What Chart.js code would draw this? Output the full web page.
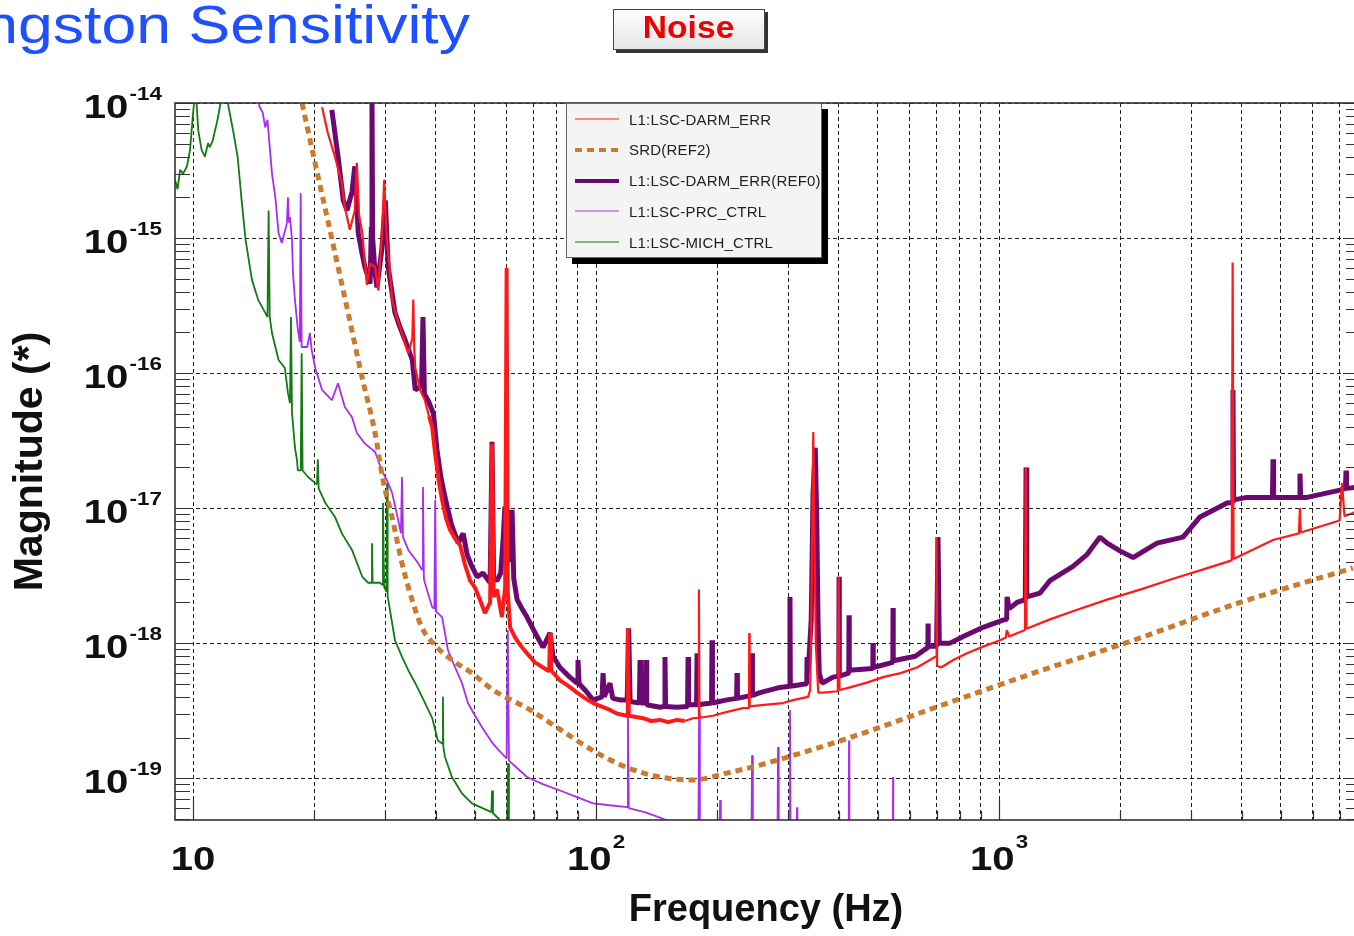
<!DOCTYPE html>
<html>
<head>
<meta charset="utf-8">
<script src="https://cdn.jsdelivr.net/npm/chart.js@4.4.1/dist/chart.umd.min.js"></script>
<style>
  html, body { margin: 0; padding: 0; background: #fff; overflow: hidden; }
  #wrap { position: relative; width: 1354px; height: 936px; overflow: hidden; background: #fff; }
  #c { position: absolute; left: 0; top: 0; }
  #title {
    position: absolute; right: 884px; top: -2px; white-space: nowrap;
    font: 53px/53px "Liberation Sans", Arial, sans-serif; color: #1e50ff;
    transform: scaleX(1.18); transform-origin: right top;
  }
  #noise {
    position: absolute; left: 613px; top: 9px; width: 150px; height: 39px;
    border: 1px solid #444; background: linear-gradient(#fdfdfd, #e6e6e6);
    box-shadow: 3px 3px 0 #333; text-align: center;
    font: bold 32px/34px "Liberation Sans", Arial, sans-serif; color: #ee0000;
  }
  #noise span { display: inline-block; transform: scaleX(1.05); }
  #legend {
    position: absolute; left: 566px; top: 103px; width: 254px; height: 153px;
    border: 1px solid #666; background: #f4f4f4; box-shadow: 6px 6px 0 #000;
    font: 15px "Liberation Sans", Arial, sans-serif; color: #222; letter-spacing: 0.2px;
  }
  #legend .row { position: absolute; left: 8px; height: 20px; display: flex; align-items: center; white-space: nowrap; }
  #legend svg { width: 44px; height: 10px; margin-right: 10px; }
</style>
</head>
<body>
<div id="wrap">
  <canvas id="c" width="1360" height="936"></canvas>
  <div id="title">Livingston Sensitivity</div>
  <div id="noise"><span>Noise</span></div>
  <div id="legend"></div>
</div>
<script>
// L1:LSC-DARM_ERR (current)
const darmFreq = [
  20.9, 21.6, 22.5, 23.4, 23.8, 24.5, 25.2, 25.5,
  25.8, 26.3, 27.0, 27.5, 28.3, 28.8, 29.5, 29.8,
  30.1, 30.3, 31.2, 32.0, 33.0, 34.2, 35.0, 35.2,
  35.4, 35.6, 36.6, 37.6, 38.5, 39.2, 39.9, 40.7,
  41.5, 42.4, 43.4, 44.6, 46.0, 47.3, 48.7, 50.0,
  51.5, 53.0, 54.6, 55.2, 55.7, 56.8, 58.4, 59.5,
  60.0, 60.4, 61.2, 63.0, 64.8, 67.4, 70.5, 73.9,
  76.5, 76.9, 77.3, 81.4, 85.5, 89.7, 94.0, 98.3,
  103, 108.3, 113, 119.4, 119.9, 120.6, 130.8, 137,
  144.1, 151, 158.9, 166, 174.1, 179.6, 180.0, 180.6,
  195, 211.4, 231.6, 239.6, 240.0, 240.6, 265, 291,
  310, 335.8, 340, 343, 346, 348, 351, 356,
  365.8, 398, 400, 402, 426.8, 470, 515.4, 570,
  625.9, 693.7, 698, 700, 702, 717.9, 770, 832.9,
  920, 1006, 1040, 1045, 1060, 1160, 1165, 1170,
  1338, 1550, 1854, 2250, 2703, 3200, 3780, 3800,
  3820, 4786, 5550, 5580, 5610, 7000, 7100, 7200,
  7550, 7733
];
const darmMag = [
  9.3e-15, 6.0e-15, 4.0e-15, 2.55e-15, 1.7e-15, 1.15e-15, 1.6e-15, 3.6e-15,
  1.5e-15, 1.09e-15, 4.5e-16, 6.5e-16, 6.1e-16, 4.1e-16, 1.2e-15, 2.7e-15,
  1.3e-15, 9.7e-16, 3.5e-16, 2.6e-16, 1.98e-16, 1.4e-16, 1.8e-16, 3.5e-16,
  1.5e-16, 1.09e-16, 7.5e-17, 6.3e-17, 4.8e-17, 4.0e-17, 2.5e-17, 1.6e-17,
  1.15e-17, 8.5e-18, 6.9e-18, 6.0e-18, 5.3e-18, 3.8e-18, 2.9e-18, 2.6e-18,
  2.1e-18, 1.67e-18, 2.0e-18, 3.0e-17, 2.2e-18, 2.5e-18, 1.56e-18, 2.6e-18,
  6.0e-16, 2.4e-18, 1.31e-18, 1.1e-18, 9.7e-19, 8.4e-19, 7.2e-19, 6.6e-19,
  6.2e-19, 1.19e-18, 6.3e-19, 5.3e-19, 4.8e-19, 4.3e-19, 3.9e-19, 3.6e-19,
  3.4e-19, 3.2e-19, 3.0e-19, 2.9e-19, 1.29e-18, 2.9e-19, 2.78e-19, 2.65e-19,
  2.7e-19, 2.6e-19, 2.7e-19, 2.65e-19, 2.78e-19, 2.8e-19, 2.5e-18, 2.8e-19,
  2.9e-19, 3.1e-19, 3.3e-19, 3.3e-19, 1.19e-18, 3.4e-19, 3.5e-19, 3.6e-19,
  3.8e-19, 4.0e-19, 4.5e-19, 3.0e-18, 3.66e-17, 8.0e-18, 1.0e-18, 4.3e-19,
  4.3e-19, 4.4e-19, 3.1e-18, 4.5e-19, 4.7e-19, 5.1e-19, 5.6e-19, 6.0e-19,
  6.6e-19, 7.9e-19, 7.9e-19, 6.1e-18, 6.8e-19, 6.6e-19, 7.5e-19, 8.4e-19,
  9.5e-19, 1.05e-18, 1.1e-18, 1.25e-18, 1.12e-18, 1.25e-18, 2.0e-17, 1.28e-18,
  1.5e-18, 1.75e-18, 2.1e-18, 2.5e-18, 3.0e-18, 3.5e-18, 4.1e-18, 6.6e-16,
  4.2e-18, 5.8e-18, 6.5e-18, 1.0e-17, 6.6e-18, 8.1e-18, 1.53e-17, 8.7e-18,
  9.2e-18, 9.5e-18
];

// SRD(REF2)
const srdFreq = [18.64, 20.08, 22.13, 24.25, 26.27, 28.29, 29.62, 31.17, 33.0, 34.95,
  37.0, 39.4, 43.9, 49.2, 55.5, 67.4, 81.4, 98.3, 119.4, 144.1,
  174, 211, 255, 427, 756, 1338, 1996, 3963, 7551];
const srdMag = [1e-14, 3.6e-15, 9.7e-16, 2.8e-16, 9.3e-17, 3.6e-17, 1.6e-17, 8.6e-18, 3.9e-18, 2.1e-18,
  1.3e-18, 1.0e-18, 7.5e-19, 6.0e-19, 4.5e-19, 3.3e-19, 2.3e-19, 1.6e-19, 1.2e-19, 1.02e-19,
  9.7e-20, 1.09e-19, 1.25e-19, 2.0e-19, 3.65e-19, 6.6e-19, 9.7e-19, 2.0e-18, 3.6e-18];

// L1:LSC-DARM_ERR(REF0)
const refFreq = [
  22.1, 22.9, 23.6, 24.1, 24.8, 25.2, 25.5, 25.7,
  26.2, 26.7, 27.5, 27.7, 27.8, 27.9, 28.3, 28.6,
  29.4, 30.0, 30.5, 31.7, 32.6, 33.6, 35.0, 35.6,
  36.9, 37.2, 37.5, 38.3, 39.5, 40.3, 41.2, 42.2,
  43.8, 45.5, 46.8, 47.9, 49.2, 50.7, 52.4, 54.6,
  55.2, 55.7, 56.8, 58.0, 58.8, 59.4, 60.1, 60.7,
  61.3, 61.9, 62.5, 63.7, 65.5, 67.4, 70.5, 73.9,
  76.9, 78.2, 81.4, 85.5, 89.7, 90.2, 90.8, 94.5,
  98.3, 103.5, 104.1, 104.8, 108.3, 110, 114.7, 119.5,
  120.5, 121.5, 128.1, 128.6, 129.2, 132.6, 133.1, 133.6,
  144.1, 147.8, 148.3, 148.8, 158.9, 168.7, 169.2, 169.7,
  177.6, 178.1, 178.6, 193.5, 194.0, 194.5, 211.4, 223.3,
  223.8, 224.3, 243.4, 243.9, 244.4, 255.2, 286.1, 302.3,
  302.9, 303.5, 333.4, 333.9, 336, 342, 345.5, 350,
  353, 355.5, 358, 363.7, 387.3, 400.3, 400.9, 401.5,
  423.8, 424.4, 425, 486.2, 486.8, 487.4, 545.2, 545.8,
  546.4, 620, 666, 666.6, 667.2, 700, 705.7, 711,
  755.5, 830, 912.9, 1023, 1045, 1047, 1060, 1108,
  1162, 1167, 1172, 1264, 1338, 1526, 1650, 1781,
  1854, 2000, 2150, 2467, 2861, 3154, 3680, 3795,
  3807, 3820, 4126, 4770, 4786, 4802, 5560, 5583,
  5606, 5812, 7020, 7240, 7262, 7284, 7733
];
const refMag = [
  8.9e-15, 4.0e-15, 1.9e-15, 1.6e-15, 2.2e-15, 3.4e-15, 1.8e-15, 1.09e-15,
  8.0e-16, 6.1e-16, 4.6e-16, 1.2e-15, 1.2e-14, 1.0e-15, 5.5e-16, 4.3e-16,
  8.2e-16, 1.9e-15, 6.1e-16, 2.8e-16, 2.2e-16, 1.75e-16, 1.25e-16, 7.5e-17,
  8.0e-17, 2.6e-16, 7.0e-17, 6.3e-17, 5.0e-17, 2.7e-17, 1.7e-17, 1.2e-17,
  7.5e-18, 5.5e-18, 6.5e-18, 4.5e-18, 3.7e-18, 3.1e-18, 3.3e-18, 2.8e-18,
  3.1e-17, 3.0e-18, 2.9e-18, 3.3e-18, 5.8e-18, 1.02e-17, 1.0e-17, 4.5e-18,
  4.0e-18, 9.7e-18, 3.0e-18, 2.1e-18, 1.8e-18, 1.56e-18, 1.2e-18, 9.3e-19,
  1.19e-18, 8.0e-19, 6.6e-19, 5.7e-19, 5.05e-19, 7.5e-19, 5.0e-19, 4.4e-19,
  3.8e-19, 4.0e-19, 6.0e-19, 4.0e-19, 5.05e-19, 3.9e-19, 3.8e-19, 3.8e-19,
  1.29e-18, 3.7e-19, 3.6e-19, 7.5e-19, 3.6e-19, 3.6e-19, 7.5e-19, 3.5e-19,
  3.35e-19, 3.4e-19, 7.9e-19, 3.4e-19, 3.35e-19, 3.4e-19, 7.9e-19, 3.5e-19,
  3.5e-19, 8.4e-19, 3.5e-19, 3.6e-19, 1.05e-18, 3.6e-19, 3.8e-19, 3.9e-19,
  6.0e-19, 3.9e-19, 4.1e-19, 8.4e-19, 4.1e-19, 4.3e-19, 4.7e-19, 4.8e-19,
  2.2e-18, 4.8e-19, 5.0e-19, 7.9e-19, 6.0e-19, 1.5e-18, 1.29e-17, 2.8e-17,
  8.0e-18, 1.5e-18, 6.0e-19, 5.05e-19, 5.6e-19, 5.7e-19, 3.1e-18, 5.7e-19,
  6.0e-19, 1.61e-18, 6.3e-19, 6.5e-19, 1.0e-18, 6.6e-19, 7.2e-19, 1.82e-18,
  7.4e-19, 8.0e-19, 9.3e-19, 1.4e-18, 9.5e-19, 9.5e-19, 6.1e-18, 1.0e-18,
  1.0e-18, 1.15e-18, 1.31e-18, 1.48e-18, 1.5e-18, 2.2e-18, 1.8e-18, 2.0e-18,
  2.1e-18, 2.0e-17, 2.2e-18, 2.35e-18, 2.9e-18, 3.7e-18, 4.5e-18, 6.1e-18,
  5.5e-18, 4.8e-18, 4.3e-18, 5.5e-18, 6.1e-18, 8.6e-18, 1.09e-17, 1.1e-17,
  7.5e-17, 1.15e-17, 1.2e-17, 1.2e-17, 2.3e-17, 1.2e-17, 1.2e-17, 1.8e-17,
  1.2e-17, 1.2e-17, 1.36e-17, 1.4e-17, 1.9e-17, 1.4e-17, 1.43e-17
];

// L1:LSC-PRC_CTRL
const prcFreq = [
  14.4, 14.6, 14.9, 15.1, 15.3, 15.7, 16.0, 16.3,
  16.6, 17.0, 17.1, 17.2, 17.3, 17.4, 17.6, 17.7,
  17.9, 18.2, 18.4, 18.5, 18.6, 19.2, 19.5, 19.7,
  20.1, 20.9, 22.1, 22.9, 23.8, 24.8, 25.5, 26.7,
  28.3, 29.4, 30.3, 31.2, 32.2, 32.8, 33.0, 33.2,
  34.2, 36.2, 37.0, 37.2, 37.4, 37.6, 39.2, 39.7,
  39.9, 40.1, 40.5, 41.5, 42.9, 44.7, 46.5, 48.1,
  50.1, 52.5, 55.5, 58, 60.0, 60.4, 60.8, 67.4,
  74, 81.4, 90, 98.3, 108, 119.4, 120.0, 120.6,
  132, 144.1, 160, 179.5, 180.2, 181, 202.5, 203.2,
  204, 243, 243.9, 245, 282, 282.9, 284, 302,
  302.9, 304, 314.5, 315.3, 316, 423.5, 424.4, 425.3,
  545, 545.8, 546.6, 700
];
const prcMag = [
  1.3e-14, 9.5e-15, 8.4e-15, 6.6e-15, 7.5e-15, 3.0e-15, 2.0e-15, 1.09e-15,
  9.2e-16, 1.2e-15, 1.3e-15, 2.0e-15, 1.3e-15, 1.43e-15, 9.7e-16, 5.5e-16,
  3.5e-16, 2.1e-16, 1.7e-16, 2.15e-15, 1.56e-16, 1.56e-16, 1.98e-16, 1.48e-16,
  1.09e-16, 7.5e-17, 6.3e-17, 8.4e-17, 5.6e-17, 4.7e-17, 3.6e-17, 3.0e-17,
  2.6e-17, 1.9e-17, 1.6e-17, 1.29e-17, 8.5e-18, 6.5e-18, 1.7e-17, 6.1e-18,
  4.9e-18, 3.9e-18, 3.5e-18, 1.43e-17, 3.0e-18, 2.8e-18, 1.85e-18, 1.8e-18,
  1.15e-17, 1.7e-18, 1.67e-18, 1.56e-18, 8.9e-19, 6.6e-19, 5.05e-19, 3.6e-19,
  2.9e-19, 2.3e-19, 1.8e-19, 1.55e-19, 1.4e-19, 1.25e-18, 1.35e-19, 1.02e-19,
  9.0e-20, 8.1e-20, 7.2e-20, 6.5e-20, 6.3e-20, 6.1e-20, 3.2e-19, 6.0e-20,
  5.6e-20, 5.1e-20, 4.5e-20, 4.0e-20, 3.0e-19, 4.0e-20, 3.8e-20, 6.9e-20,
  3.8e-20, 3.6e-20, 1.48e-19, 3.6e-20, 3.5e-20, 1.7e-19, 3.5e-20, 3.5e-20,
  3.2e-19, 3.5e-20, 3.5e-20, 6.1e-20, 3.5e-20, 3.4e-20, 1.9e-19, 3.4e-20,
  3.3e-20, 1.02e-19, 3.3e-20, 3.2e-20
];

// L1:LSC-MICH_CTRL
const michFreq = [
  9.02, 9.15, 9.29, 9.45, 9.66, 9.83, 10.0, 10.15,
  10.3, 10.5, 10.7, 10.9, 11.0, 11.2, 11.3, 11.5,
  11.7, 12.0, 12.2, 12.6, 12.9, 13.2, 13.5, 14.0,
  14.5, 15.1, 15.3, 15.4, 15.5, 15.7, 16.3, 16.9,
  17.2, 17.4, 17.5, 17.6, 17.9, 18.1, 18.2, 18.5,
  18.6, 18.7, 19.3, 20.1, 20.3, 20.4, 20.5, 21.3,
  22.5, 23.4, 24.8, 26.3, 27.2, 27.7, 27.8, 27.9,
  29.1, 29.5, 29.6, 29.8, 30.2, 30.3, 30.4, 30.5,
  31.7, 33.0, 34.2, 35.6, 37.0, 39.2, 40.5, 41.6,
  41.7, 41.8, 42.2, 43.9, 46.5, 49.2, 55.0, 55.2,
  55.5, 57.8, 60.2, 60.5, 60.8, 63.0
];
const michMag = [
  2.7e-15, 2.3e-15, 3.2e-15, 3.0e-15, 3.4e-15, 4.5e-15, 8.4e-15, 1.3e-14,
  6.3e-15, 4.5e-15, 4.0e-15, 5.05e-15, 4.7e-15, 5.3e-15, 6.0e-15, 7.5e-15,
  1.0e-14, 1.4e-14, 1.0e-14, 6.0e-15, 4.0e-15, 1.9e-15, 9.7e-16, 4.9e-16,
  3.5e-16, 2.8e-16, 2.6e-16, 1.6e-15, 2.6e-16, 1.98e-16, 1.25e-16, 1.09e-16,
  7.1e-17, 6.0e-17, 2.6e-16, 5.1e-17, 2.8e-17, 2.3e-17, 1.9e-17, 1.9e-17,
  1.4e-16, 1.9e-17, 1.7e-17, 1.53e-17, 1.5e-17, 2.3e-17, 1.4e-17, 1.09e-17,
  8.6e-18, 6.5e-18, 4.9e-18, 3.1e-18, 2.8e-18, 2.8e-18, 5.5e-18, 2.8e-18,
  2.8e-18, 2.7e-18, 1.09e-17, 2.6e-18, 2.4e-18, 1.53e-17, 2.2e-18, 2.1e-18,
  1.05e-18, 7.9e-19, 6.3e-19, 5.05e-19, 4.0e-19, 2.8e-19, 1.9e-19, 1.8e-19,
  4.0e-19, 1.7e-19, 1.43e-19, 1.02e-19, 7.7e-20, 6.5e-20, 5.6e-20, 8.1e-20,
  5.5e-20, 4.9e-20, 4.5e-20, 1.29e-19, 4.5e-20, 4.2e-20
];

// axes
const xMin = 9.02, xMax = 7733;
const yMin = 4.9e-20, yMax = 1e-14;
const xLabelValues = [10, 100, 1000];
const yLabelValues = [1e-14, 1e-15, 1e-16, 1e-17, 1e-18, 1e-19];
const xDecades = [1, 10, 100, 1000];
const yDecades = [1e-20, 1e-19, 1e-18, 1e-17, 1e-16, 1e-15, 1e-14];
const multipliers = [1, 2, 3, 4, 5, 6, 7, 8, 9];

const xTickValues = xDecades.flatMap(d => multipliers.map(m => d * m)).filter(v => v >= xMin && v <= xMax);
const yTickValues = yDecades.flatMap(d => multipliers.map(m => d * m)).filter(v => v >= yMin && v <= yMax);
const isDecade = v => Math.abs(Math.log10(v) - Math.round(Math.log10(v))) < 1e-6;

const pts = (fs, ms) => fs.map((f, i) => ({ x: f, y: ms[i] }));

const FONT = '"Liberation Sans", Arial, sans-serif';
Chart.defaults.font.family = FONT;

function drawPower(ctx, exp, x, baseY, align, rise) {
  const big = 'bold 34px ' + FONT;
  const small = 'bold 19px ' + FONT;
  const sup = exp === 1 ? '' : String(exp);
  ctx.font = big;
  const wb = ctx.measureText('10').width;
  ctx.font = small;
  const ws = sup ? ctx.measureText(sup).width + 1 : 0;
  const total = wb + ws;
  const start = align === 'right' ? -total : -total / 2;
  ctx.save();
  ctx.translate(x, baseY);
  ctx.scale(1.18, 1);
  ctx.textAlign = 'left';
  ctx.textBaseline = 'alphabetic';
  ctx.font = big;
  ctx.fillText('10', start, 0);
  if (sup) {
    ctx.font = small;
    ctx.fillText(sup, start + wb + 1, rise);
  }
  ctx.restore();
}

const powerLabels = {
  id: 'powerLabels',
  afterDraw(chart) {
    const { ctx, scales: { x, y } } = chart;
    ctx.save();
    ctx.fillStyle = '#111';
    yLabelValues.forEach(v => {
      drawPower(ctx, Math.round(Math.log10(v)), 162, y.getPixelForValue(v) + 15, 'right', -18);
    });
    xLabelValues.forEach(v => {
      drawPower(ctx, Math.round(Math.log10(v)), x.getPixelForValue(v), 870, 'center', -22);
    });
    ctx.restore();
  }
};

const frameTicks = {
  id: 'frameTicks',
  afterDatasetsDraw(chart) {
    const { ctx, chartArea: a, scales: { x, y } } = chart;
    ctx.save();
    ctx.strokeStyle = '#333';
    ctx.lineWidth = 1.2;
    ctx.beginPath();
    yTickValues.forEach(v => {
      const py = Math.round(y.getPixelForValue(v)) + 0.5;
      const major = isDecade(v);
      ctx.moveTo(a.left, py); ctx.lineTo(a.left + (major ? 18 : 15), py);
      ctx.moveTo(a.right, py); ctx.lineTo(a.right - (major ? 14 : 11), py);
    });
    xTickValues.forEach(v => {
      const px = Math.round(x.getPixelForValue(v)) + 0.5;
      const major = isDecade(v);
      ctx.moveTo(px, a.bottom); ctx.lineTo(px, a.bottom - (major ? 20 : 9));
    });
    ctx.stroke();
    ctx.lineWidth = 1.6;
    ctx.strokeRect(a.left, a.top, a.right - a.left, a.bottom - a.top);
    ctx.restore();
  }
};

const chart = new Chart(document.getElementById('c'), {
  type: 'line',
  data: {
    datasets: [
      { label: 'L1:LSC-DARM_ERR', data: pts(darmFreq, darmMag), borderColor: '#ff1a1a', borderWidth: 2,
        segment: { borderWidth: c => (c.p0.parsed.x > 38 && c.p0.parsed.x < 160 ? 4 : 2.2) } },
      { label: 'SRD(REF2)', data: pts(srdFreq, srdMag), borderColor: '#cc7a2e', borderWidth: 5,
        borderDash: [7, 5], cubicInterpolationMode: 'monotone' },
      { label: 'L1:LSC-DARM_ERR(REF0)', data: pts(refFreq, refMag), borderColor: '#6a0a70', borderWidth: 5 },
      { label: 'L1:LSC-PRC_CTRL', data: pts(prcFreq, prcMag), borderColor: '#a62ef0', borderWidth: 1.8 },
      { label: 'L1:LSC-MICH_CTRL', data: pts(michFreq, michMag), borderColor: '#147a14', borderWidth: 1.8 }
    ]
  },
  options: {
    responsive: false,
    animation: false,
    events: [],
    layout: { padding: { left: 0, top: 103, right: 3, bottom: 0 } },
    elements: {
      point: { radius: 0 },
      line: { tension: 0, borderJoinStyle: 'bevel' }
    },
    plugins: { legend: { display: false }, tooltip: { enabled: false } },
    scales: {
      x: {
        type: 'logarithmic', min: xMin, max: xMax,
        afterBuildTicks: s => { s.ticks = xTickValues.map(v => ({ value: v })); },
        ticks: { display: false },
        grid: { color: '#222', lineWidth: 1, drawTicks: false },
        border: { display: false, dash: [4, 3] },
        title: {
          display: true, text: 'Frequency (Hz)', color: '#111',
          font: { size: 38, weight: 'bold' }, padding: { top: 68, bottom: 2.4 }
        }
      },
      y: {
        type: 'logarithmic', min: yMin, max: yMax,
        afterBuildTicks: s => { s.ticks = yLabelValues.map(v => ({ value: v })); },
        ticks: { display: false },
        grid: { color: '#222', lineWidth: 1, drawTicks: false },
        border: { display: false, dash: [4, 3] },
        title: {
          display: true, text: 'Magnitude (*)', color: '#111',
          font: { size: 41, weight: 'bold' }, padding: { top: 6, bottom: 119.8 }
        }
      }
    }
  },
  plugins: [frameTicks, powerLabels]
});

// legend box drawn from the datasets
const legendBox = document.getElementById('legend');
chart.data.datasets.forEach((ds, i) => {
  const row = document.createElement('div');
  row.className = 'row';
  row.style.top = (5 + i * 30.8) + 'px';
  const w = Math.min(ds.borderWidth, 4);
  const dash = ds.borderDash ? ds.borderDash.join(' ') : 'none';
  row.innerHTML = '<svg viewBox="0 0 44 10"><line x1="0" y1="5" x2="44" y2="5" stroke="' + ds.borderColor +
    '" stroke-width="' + (w < 2.5 ? 1.2 : w) + '" stroke-dasharray="' + dash + '"/></svg><span>' + ds.label + '</span>';
  legendBox.appendChild(row);
});
</script>
</body>
</html>
